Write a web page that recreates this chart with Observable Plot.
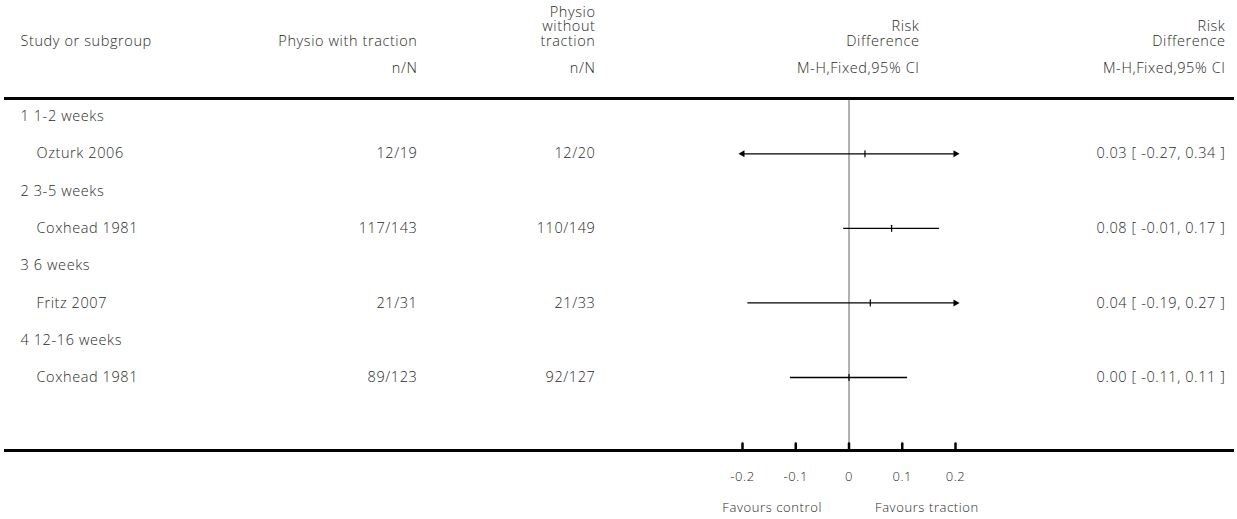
<!DOCTYPE html>
<html><head><meta charset="utf-8">
<script src="https://cdn.jsdelivr.net/npm/d3@7"></script>
<script src="https://cdn.jsdelivr.net/npm/@observablehq/plot@0.6"></script>
<style>body{margin:0;background:#fff} #chart svg{display:block} #chart svg text{letter-spacing:0.6px}</style>
</head><body><div id="chart"></div>
<script>
const subgroups = ["1 1-2 weeks", "2 3-5 weeks", "3 6 weeks", "4 12-16 weeks"];
const studies = ["Ozturk 2006", "Coxhead 1981", "Fritz 2007", "Coxhead 1981"];
const withTraction = ["12/19", "117/143", "21/31", "89/123"];
const withoutTraction = ["12/20", "110/149", "21/33", "92/127"];
const riskDiff = [0.03, 0.08, 0.04, 0.00];
const ciLow = [-0.27, -0.01, -0.19, -0.11];
const ciHigh = [0.34, 0.17, 0.27, 0.11];
const xTicks = [-0.2, -0.1, 0, 0.1, 0.2];
const favourLabels = ["Favours control", "Favours traction"];
const headers = {
  study: "Study or subgroup",
  trac: "Physio with traction",
  notrac: "Physio\nwithout\ntraction",
  rd: "Risk\nDifference",
  nN: "n/N",
  method: "M-H,Fixed,95% CI"
};

const xMin = -0.2, xMax = 0.2;
const clamp = v => Math.max(xMin, Math.min(xMax, v));
const rows = [];
subgroups.forEach((g, i) => {
  rows.push({kind: "group", idx: 2 * i, label: g});
  rows.push({kind: "study", idx: 2 * i + 1, label: studies[i], t: withTraction[i], c: withoutTraction[i],
    rd: riskDiff[i], lo: ciLow[i], hi: ciHigh[i],
    ci: `${riskDiff[i].toFixed(2)} [ ${ciLow[i].toFixed(2)}, ${ciHigh[i].toFixed(2)} ]`});
});
const studyRows = rows.filter(r => r.kind === "study");
const arrows = [];
studyRows.forEach(r => {
  if (r.lo < xMin) arrows.push({x: xMin, idx: r.idx, rot: -90});
  if (r.hi > xMax) arrows.push({x: xMax, idx: r.idx, rot: 90});
});
const lineShape = {draw(ctx, l) { ctx.moveTo(0, 0); ctx.lineTo(0, -l); }};
const FONT = "'Open Sans', Lato, sans-serif";
const TXT = "#2a2a2a";
const fs = 14.5;
const FW = 300;

function headerCol(text, anchorSide, dx, textAnchor, dy) {
  return Plot.text([text], {text: d => d, frameAnchor: anchorSide, dx, dy, textAnchor,
    lineAnchor: "bottom", lineHeight: 1.0, fontSize: fs, fontWeight: FW, fill: TXT});
}
const T = {fontSize: fs, fontWeight: FW, fill: TXT};
const S = {fontSize: 13, fontWeight: FW, fill: TXT};

const chart = Plot.plot({
  width: 1237, height: 519,
  marginLeft: 5, marginRight: 5, marginTop: 98, marginBottom: 69,
  style: {fontFamily: FONT, background: "#fff"},
  x: {domain: [xMin, xMax], range: [742, 955], axis: null},
  y: {domain: [0, 7], range: [116, 377], axis: null},
  marks: [
    Plot.ruleX([0], {stroke: "#999", strokeWidth: 1.5}),
    Plot.frame({anchor: "top", stroke: "black", strokeWidth: 3}),
    Plot.frame({anchor: "bottom", stroke: "black", strokeWidth: 3}),
    // headers
    headerCol(headers.study, "top-left", 15, "start", -53),
    headerCol(headers.trac, "top-left", 412, "end", -53),
    headerCol(headers.notrac, "top-left", 590, "end", -53),
    headerCol(headers.rd, "top-left", 914, "end", -53),
    headerCol(headers.rd, "top-right", -7, "end", -53),
    headerCol(headers.nN, "top-left", 412, "end", -26),
    headerCol(headers.nN, "top-left", 590, "end", -26),
    headerCol(headers.method, "top-left", 914, "end", -26),
    headerCol(headers.method, "top-right", -7, "end", -26),
    // rows
    Plot.text(rows.filter(r => r.kind === "group"), {y: "idx", text: "label", frameAnchor: "left", dx: 15, textAnchor: "start", ...T}),
    Plot.text(studyRows, {y: "idx", text: "label", frameAnchor: "left", dx: 31, textAnchor: "start", ...T}),
    Plot.text(studyRows, {y: "idx", text: "t", frameAnchor: "left", dx: 412, textAnchor: "end", ...T}),
    Plot.text(studyRows, {y: "idx", text: "c", frameAnchor: "left", dx: 590, textAnchor: "end", ...T}),
    Plot.text(studyRows, {y: "idx", text: "ci", frameAnchor: "right", dx: -7, textAnchor: "end", ...T}),
    // forest
    Plot.ruleY(studyRows, {y: "idx", x1: d => clamp(d.lo), x2: d => clamp(d.hi), stroke: "black", strokeWidth: 1.3}),
    Plot.vector(studyRows, {x: "rd", y: "idx", length: 6, anchor: "middle", rotate: 0, shape: lineShape, stroke: "black", strokeWidth: 1.2}),
    Plot.dot(arrows, {x: "x", y: "idx", symbol: "triangle", rotate: "rot", r: 2.6, fill: "black", stroke: null}),
    // axis
    Plot.vector(xTicks, {x: d => d, frameAnchor: "bottom", length: 7, anchor: "start", rotate: 0, shape: lineShape, stroke: "black", strokeWidth: 2.5}),
    Plot.text(xTicks, {x: d => d, frameAnchor: "bottom", dy: 30, text: d => String(d), ...S}),
    Plot.text([favourLabels[0]], {x: () => 0, text: d => d, frameAnchor: "bottom", dy: 61, dx: -27, textAnchor: "end", ...S}),
    Plot.text([favourLabels[1]], {x: () => 0, text: d => d, frameAnchor: "bottom", dy: 61, dx: 26, textAnchor: "start", ...S})
  ]
});
document.getElementById("chart").appendChild(chart);
</script>
</body></html>
